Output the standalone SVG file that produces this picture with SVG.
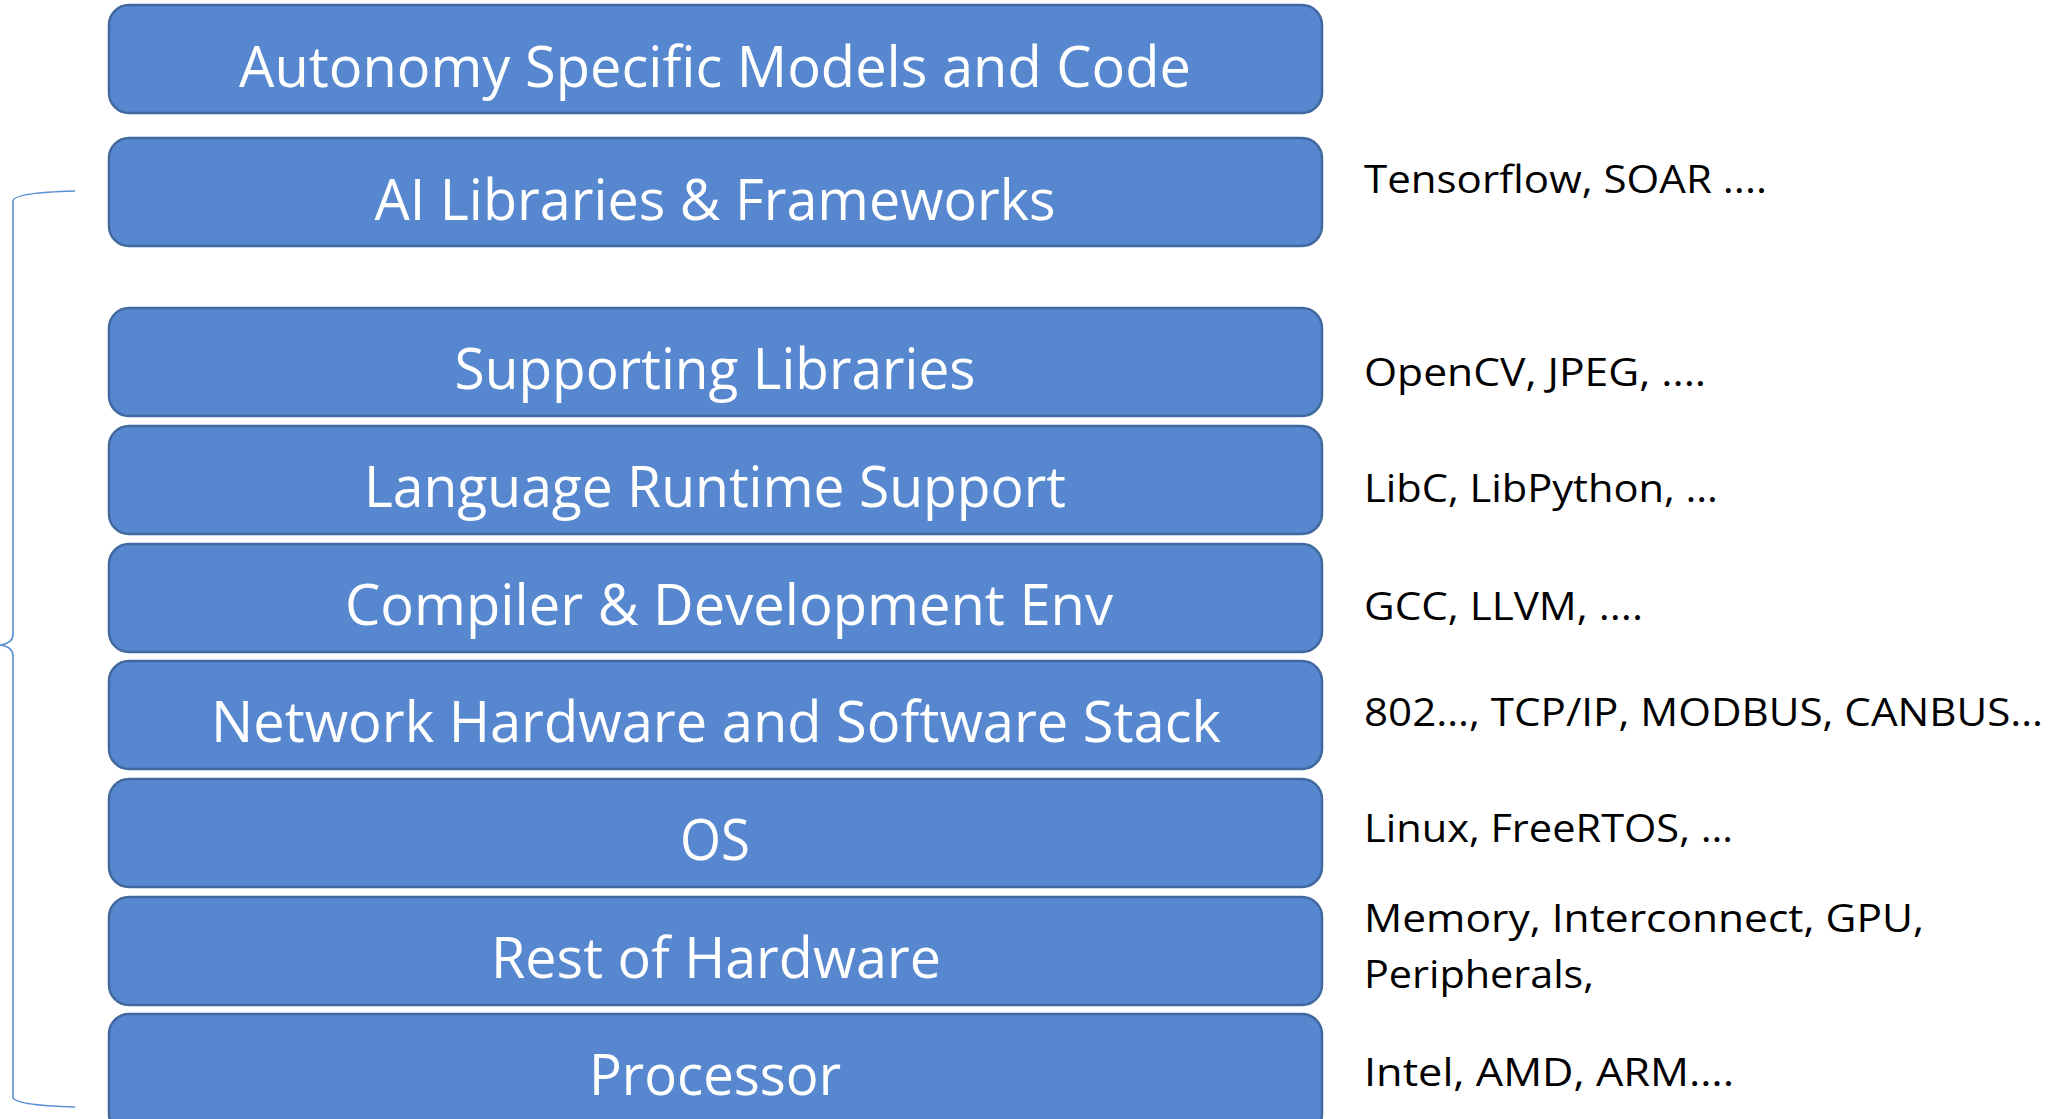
<svg xmlns="http://www.w3.org/2000/svg" width="2069" height="1119" viewBox="0 0 2069 1119">
  <style>
    .layer rect { fill: #5687cf; stroke: #41699f; stroke-width: 2.5; }
    .layer text { fill: #ffffff; font-family: "Open Sans", "Liberation Sans", sans-serif; font-size: 57px; text-anchor: middle; }
    .note { fill: #000000; font-family: "Open Sans", "Liberation Sans", sans-serif; font-size: 39px; }
    .brace { fill: none; stroke: #5b8fd6; stroke-width: 1.6; }
  </style>
  <rect width="2069" height="1119" fill="#ffffff"/>

  <!-- stack layers, top to bottom -->
  <g id="autonomy" class="layer">
    <rect x="109" y="5" width="1213" height="108" rx="20"/>
    <text x="715" y="87" textLength="952" lengthAdjust="spacingAndGlyphs">Autonomy Specific Models and Code</text>
  </g>
  <g id="ai-libraries" class="layer">
    <rect x="109" y="138" width="1213" height="108" rx="20"/>
    <text x="715" y="220" textLength="681" lengthAdjust="spacingAndGlyphs">AI Libraries &amp; Frameworks</text>
  </g>
  <g id="supporting-libraries" class="layer">
    <rect x="109" y="308" width="1213" height="108" rx="20"/>
    <text x="715" y="389" textLength="521" lengthAdjust="spacingAndGlyphs">Supporting Libraries</text>
  </g>
  <g id="language-runtime" class="layer">
    <rect x="109" y="426" width="1213" height="108" rx="20"/>
    <text x="715" y="507" textLength="702" lengthAdjust="spacingAndGlyphs">Language Runtime Support</text>
  </g>
  <g id="compiler" class="layer">
    <rect x="109" y="544" width="1213" height="108" rx="20"/>
    <text x="729" y="625" textLength="768" lengthAdjust="spacingAndGlyphs">Compiler &amp; Development Env</text>
  </g>
  <g id="network" class="layer">
    <rect x="109" y="661" width="1213" height="108" rx="20"/>
    <text x="716" y="742" textLength="1010" lengthAdjust="spacingAndGlyphs">Network Hardware and Software Stack</text>
  </g>
  <g id="os" class="layer">
    <rect x="109" y="779" width="1213" height="108" rx="20"/>
    <text x="715" y="860" textLength="70" lengthAdjust="spacingAndGlyphs">OS</text>
  </g>
  <g id="hardware" class="layer">
    <rect x="109" y="897" width="1213" height="108" rx="20"/>
    <text x="716" y="978" textLength="450" lengthAdjust="spacingAndGlyphs">Rest of Hardware</text>
  </g>
  <g id="processor" class="layer">
    <rect x="109" y="1014" width="1213" height="120" rx="20"/>
    <text x="715" y="1095" textLength="252" lengthAdjust="spacingAndGlyphs">Processor</text>
  </g>

  <!-- example notes beside each layer -->
  <g id="notes">
    <text class="note" x="1364" y="193" textLength="403" lengthAdjust="spacingAndGlyphs">Tensorflow, SOAR ....</text>
    <text class="note" x="1364" y="386" textLength="342" lengthAdjust="spacingAndGlyphs">OpenCV, JPEG, ....</text>
    <text class="note" x="1364" y="502" textLength="354" lengthAdjust="spacingAndGlyphs">LibC, LibPython, …</text>
    <text class="note" x="1364" y="620" textLength="279" lengthAdjust="spacingAndGlyphs">GCC, LLVM, ....</text>
    <text class="note" x="1364" y="726" textLength="679" lengthAdjust="spacingAndGlyphs">802…, TCP/IP, MODBUS, CANBUS…</text>
    <text class="note" x="1364" y="842" textLength="369" lengthAdjust="spacingAndGlyphs">Linux, FreeRTOS, …</text>
    <text class="note" x="1364" y="932" textLength="560" lengthAdjust="spacingAndGlyphs">Memory, Interconnect, GPU,</text>
    <text class="note" x="1364" y="988" textLength="230" lengthAdjust="spacingAndGlyphs">Peripherals,</text>
    <text class="note" x="1364" y="1086" textLength="370" lengthAdjust="spacingAndGlyphs">Intel, AMD, ARM….</text>
  </g>

  <!-- curly brace spanning the lower layers -->
  <g id="connectors">
    <path class="brace" d="M75,191 C40,192 13,195 13,201 L13,634 C13,640 8,644 0,645 C8,646 13,650 13,656 L13,1097 C13,1103 40,1106 75,1107"/>
  </g>
</svg>
